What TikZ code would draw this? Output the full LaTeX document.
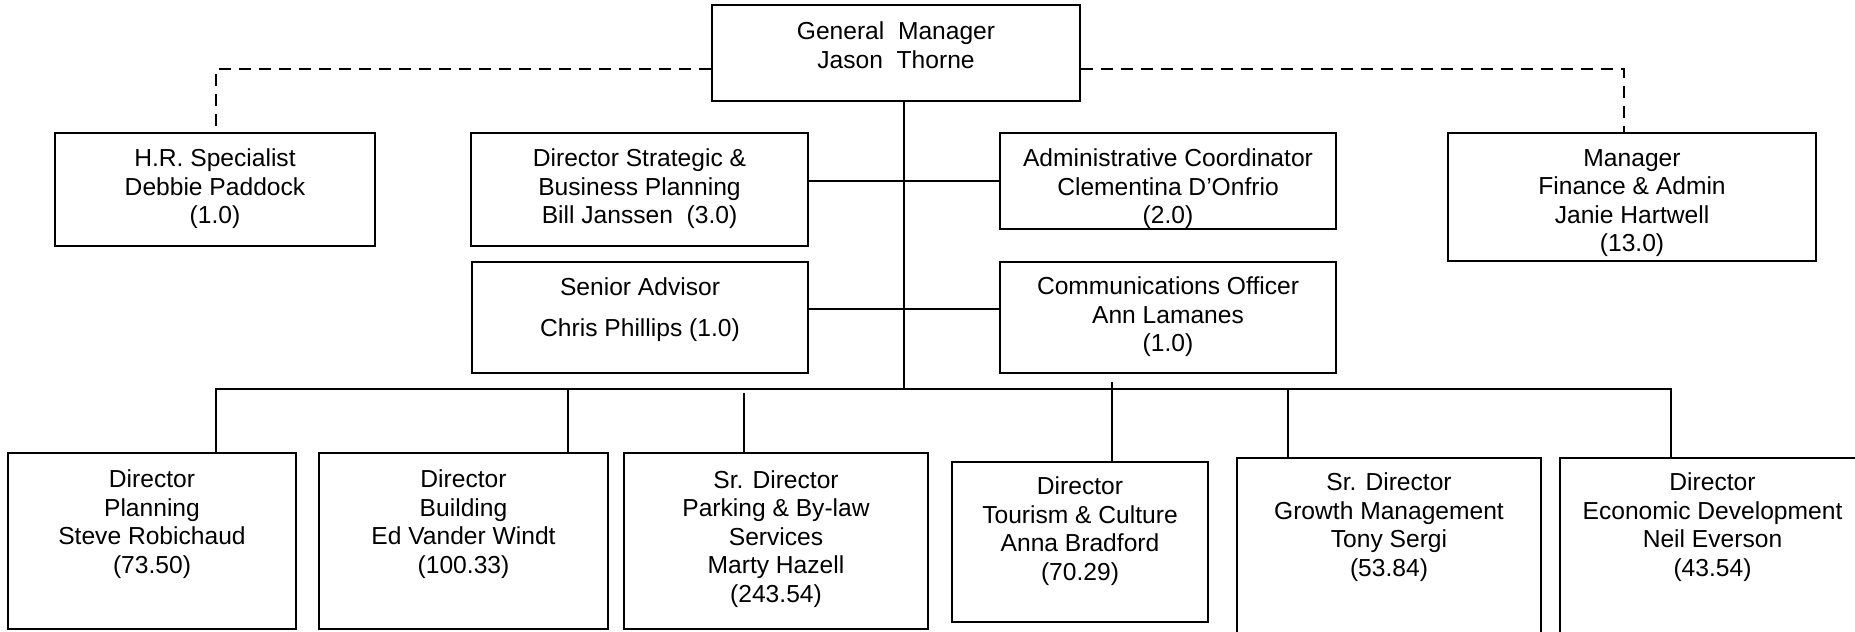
\documentclass[tikz,border=0pt]{standalone}
\usepackage{fontspec}
\setmainfont{Liberation Sans}
\usetikzlibrary{calc}
\begin{document}
\begin{tikzpicture}[x=0.5pt,y=-0.5pt,
  orgbox/.style={draw=black, line width=1.1pt, inner sep=0pt, fill=white},
  orgtext/.style={align=center, inner sep=0pt,
    font=\fontsize{12.3pt}{14.25pt}\selectfont},
  link/.style={draw=black, line width=0.85pt},
  dotlink/.style={link, dash pattern=on 6pt off 4pt}]

\useasboundingbox (0,0) rectangle (1855,631);
\clip (0,0) rectangle (1855,631);

% ---- boxes ----
\node[orgbox, minimum width=184pt,   minimum height=48pt]   (gm)     at (896,53)     {};
\node[orgbox, minimum width=160pt,   minimum height=56.5pt] (hr)     at (215,189.5)  {};
\node[orgbox, minimum width=168.5pt, minimum height=56.5pt] (strat)  at (639.5,189.5){};
\node[orgbox, minimum width=168pt,   minimum height=48pt]   (admin)  at (1168,181)   {};
\node[orgbox, minimum width=184pt,   minimum height=64pt]   (fin)    at (1632,197)   {};
\node[orgbox, minimum width=168pt,   minimum height=55.5pt] (senior) at (640,317.5)  {};
\node[orgbox, minimum width=168pt,   minimum height=55.5pt] (comms)  at (1168,317.5) {};
\node[orgbox, minimum width=144pt,   minimum height=88pt]   (plan)   at (152,541)    {};
\node[orgbox, minimum width=144.5pt, minimum height=88pt]   (build)  at (463.5,541)  {};
\node[orgbox, minimum width=152pt,   minimum height=88pt]   (park)   at (776,541)    {};
\node[orgbox, minimum width=128pt,   minimum height=80pt]   (tour)   at (1080,542)   {};
\node[orgbox, minimum width=152pt,   minimum height=121pt]  (growth) at (1389,579)   {};
\node[orgbox, minimum width=152.5pt, minimum height=121pt]  (econ)   at (1712.5,579) {};

% ---- box texts ----
\node[orgtext] (gmT)     at (896,45)      {General\ \ Manager\\Jason\ \ Thorne};
\node[orgtext] (hrT)     at (215,189)     {H.R. Specialist\\Debbie Paddock\\(1.0)};
\node[orgtext] (stratT)  at (639.5,189)   {Director Strategic \&\\Business Planning\\Bill Janssen\ \ (3.0)};
\node[orgtext] (adminT)  at (1168,189)    {Administrative Coordinator\\Clementina D’Onfrio\\(2.0)};
\node[orgtext] (finT)    at (1632,203)    {Manager\\Finance \& Admin\\Janie Hartwell\\(13.0)};
\node[orgtext] (seniorT) at (640,309.5)   {Senior Advisor\\[6.25pt]Chris Phillips (1.0)};
\node[orgtext] (commsT)  at (1168,317)    {Communications Officer\\Ann Lamanes\\(1.0)};
\node[orgtext] (planT)   at (152,524)     {Director\\Planning\\Steve Robichaud\\(73.50)};
\node[orgtext] (buildT)  at (463.5,524)   {Director\\Building\\Ed Vander Windt\\(100.33)};
\node[orgtext] (parkT)   at (776,539)     {Sr. Director\\Parking \& By-law\\Services\\Marty Hazell\\(243.54)};
\node[orgtext] (tourT)   at (1080,531)    {Director\\Tourism \& Culture\\Anna Bradford\\(70.29)};
\node[orgtext] (growthT) at (1389,527)    {Sr. Director\\Growth Management\\Tony Sergi\\(53.84)};
\node[orgtext] (econT)   at (1712.5,527)  {Director\\Economic Development\\Neil Everson\\(43.54)};

% ---- reporting lines ----
\coordinate (trunk) at (904,389);
\coordinate (busL)  at (216,389);
\coordinate (busR)  at (1671,389);
\coordinate (dB)    at (568,389);
\coordinate (dP)    at (744,393);
\coordinate (dT)    at (1112,382);
\coordinate (dG)    at (1288,389);
\coordinate (dashL) at (216,69);
\coordinate (dashR) at (1624,69);

\draw[link] (trunk |- gm.south) -- (trunk);
\draw[link] (strat.east |- admin.west) -- (admin.west);
\draw[link] ($(senior.east)+(0,-8.5)$) -- ($(comms.west)+(0,-8.5)$);
\draw[link] (busL |- plan.north) -- (busL) -- (busR) -- (busR |- econ.north);
\draw[link] (dB) -- (dB |- build.north);
\draw[link] (dP) -- (dP |- park.north);
\draw[link] (dT) -- (dT |- tour.north);
\draw[link] (dG) -- (dG |- growth.north);

% ---- staff (dashed) lines ----
\draw[dotlink] (gm.west |- dashL) -- (dashL) -- (dashL |- hr.north);
\draw[dotlink] (gm.east |- dashR) -- (dashR) -- (dashR |- fin.north);
\end{tikzpicture}
\end{document}
